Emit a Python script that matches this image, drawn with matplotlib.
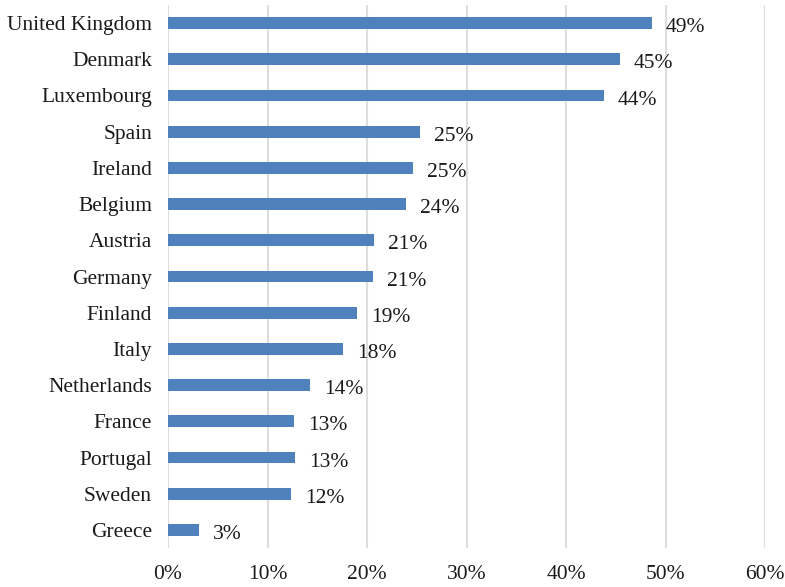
import numpy as np
import matplotlib.pyplot as plt
from matplotlib.ticker import FuncFormatter

countries = ['United Kingdom', 'Denmark', 'Luxembourg', 'Spain', 'Ireland', 'Belgium',
             'Austria', 'Germany', 'Finland', 'Italy', 'Netherlands', 'France',
             'Portugal', 'Sweden', 'Greece']
share = [48.6, 45.4, 43.8, 25.3, 24.6, 23.9, 20.7, 20.6, 19.0, 17.6, 14.3, 12.7,
         12.8, 12.4, 3.1]
xticks = [0, 10, 20, 30, 40, 50, 60]

plt.rcParams['font.family'] = ['Liberation Serif', 'DejaVu Serif']
plt.rcParams['font.size'] = 15.5

fig = plt.figure(figsize=(7.85, 5.87), dpi=100)
ax = fig.add_axes([0.214, 0.0664, 0.7606, 0.9251])

y = np.arange(len(countries))
bars = ax.barh(y, share, height=0.33, color='#4F81BD', zorder=3)
for rect, v in zip(bars, share):
    ax.annotate('%d%%' % round(v), (rect.get_width(), rect.get_y() + rect.get_height() / 2),
                xytext=(10, -1.5), textcoords='offset points', va='center_baseline',
                ha='left', color='#1a1a1a')

ax.set_yticks(y)
ax.set_yticklabels(countries)
ax.set_ylim(len(countries) - 0.5, -0.5)
ax.set_xlim(0, 60)
ax.set_xticks(xticks)
ax.xaxis.set_major_formatter(FuncFormatter(lambda v, p: '%d%%' % v))
ax.grid(axis='x', color='#DDDDDD', linewidth=1.5, zorder=0)
ax.tick_params(axis='both', length=0, colors='#1a1a1a')
ax.tick_params(axis='y', pad=11.5)
ax.tick_params(axis='x', pad=12)
for s in ax.spines.values():
    s.set_visible(False)

plt.savefig('out.png', dpi=100)
